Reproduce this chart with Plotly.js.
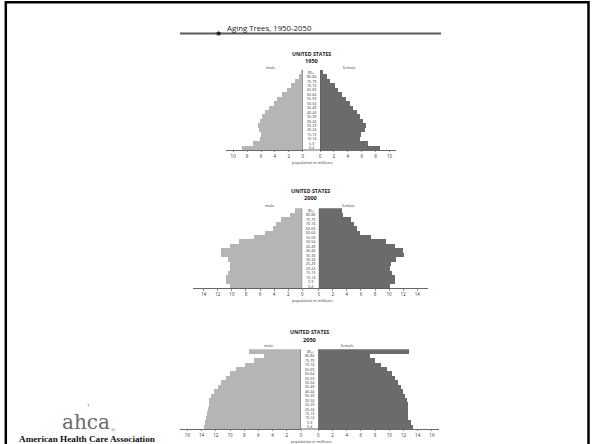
<!DOCTYPE html>
<html><head><meta charset="utf-8">
<script src="https://cdn.plot.ly/plotly-3.0.1.min.js"></script>
<style>html,body{margin:0;padding:0;background:#fff}#chart{width:592px;height:444px}</style>
</head><body><div id="chart"></div>
<script>
// ---------- DATA ----------
const ages = ["0-4","5-9","10-14","15-19","20-24","25-29","30-34","35-39","40-44","45-49","50-54","55-59","60-64","65-69","70-74","75-79","80-84","85+"];
const male1950   = [8.8, 7.1, 6.2, 6.0, 6.3, 6.4, 6.2, 5.9, 5.4, 4.8, 4.2, 3.7, 3.0, 2.3, 1.7, 1.1, 0.5, 0.25];
const female1950 = [8.6, 6.9, 5.7, 5.9, 6.5, 6.6, 6.2, 5.75, 5.3, 4.8, 4.25, 3.75, 3.2, 2.65, 2.1, 1.5, 1.0, 0.5];
const male2000   = [10.3, 10.8, 10.9, 10.6, 10.2, 10.2, 10.6, 11.5, 11.5, 10.2, 9.0, 6.8, 5.3, 4.2, 3.7, 3.0, 1.8, 1.1];
const female2000 = [10.1, 10.8, 10.8, 10.4, 10.1, 10.3, 11.0, 12.1, 12.0, 10.8, 9.6, 7.4, 5.8, 5.4, 5.0, 4.6, 3.4, 3.3];
const male2050   = [13.7, 13.55, 13.35, 13.2, 13.05, 13.0, 12.9, 12.65, 12.2, 11.65, 11.2, 10.55, 10.0, 9.15, 7.9, 6.6, 5.2, 7.35];
const female2050 = [13.3, 13.0, 12.7, 12.6, 12.6, 12.6, 12.45, 12.15, 11.95, 11.6, 11.25, 10.85, 10.35, 9.7, 8.8, 8.0, 7.25, 12.75];
const years = ["1950", "2000", "2050"];
const country = "UNITED STATES";
const sexLabels = ["male", "female"];
const xAxisTitle = "population in millions";
const chartTitle = "Aging Trees, 1950-2050";
const logoText = "ahca";
const orgName = "American Health Care Association";

// ---------- LAYOUT HELPERS ----------
const W = 592, H = 444;
const fx = p => p / W, fy = p => 1 - p / H;
const FONT = '"Open Sans", "Noto Sans", sans-serif';
const MALE = '#b5b5b5', FEMALE = '#6b6b6b';

const series = [[male1950, female1950], [male2000, female2000], [male2050, female2050]];
const panels = [
  {rng: 11,   m0: 302.7, f0: 320.0, scale: 6.95, top: 70,    bot: 150,   us: 53.8,  yr: 61.5,  sex: 67,    xl: 162.5},
  {rng: 15.5, m0: 302.3, f0: 318.7, scale: 7.04, top: 208.3, bot: 288.5, us: 190.6, yr: 198.3, sex: 205,   xl: 300.5},
  {rng: 17,   m0: 301.0, f0: 318.3, scale: 7.1,  top: 349.3, bot: 429,   us: 331.8, yr: 339.5, sex: 345.5, xl: 441.5}
];

const traces = [];
const layout = {
  width: W, height: H,
  margin: {l: 0, r: 0, t: 0, b: 0},
  paper_bgcolor: '#fff', plot_bgcolor: 'rgba(0,0,0,0)',
  showlegend: false, barmode: 'overlay', bargap: 0,
  font: {family: FONT, color: '#333'},
  shapes: [], annotations: []
};

const axBase = {
  showgrid: false, zeroline: false, showline: true, linecolor: '#444', linewidth: 0.8,
  ticks: 'outside', ticklen: 1.5, tickwidth: 0.6, tickcolor: '#444',
  dtick: 2, tick0: 0, tickfont: {size: 4.5, color: '#333', family: FONT}, fixedrange: true
};

panels.forEach((p, i) => {
  const xm = 2 * i + 1, xf = 2 * i + 2, yk = i + 1;
  const xmId = xm === 1 ? 'x' : 'x' + xm, xfId = 'x' + xf, yId = yk === 1 ? 'y' : 'y' + yk;
  const xmName = xm === 1 ? 'xaxis' : 'xaxis' + xm, xfName = 'xaxis' + xf, yName = yk === 1 ? 'yaxis' : 'yaxis' + yk;
  const left = p.m0 - p.rng * p.scale, right = p.f0 + p.rng * p.scale;

  traces.push({type: 'bar', orientation: 'h', x: series[i][0], y: ages, xaxis: xmId, yaxis: yId,
    marker: {color: MALE, line: {width: 0}}, hoverinfo: 'skip'});
  traces.push({type: 'bar', orientation: 'h', x: series[i][1], y: ages, xaxis: xfId, yaxis: yId,
    marker: {color: FEMALE, line: {width: 0}}, hoverinfo: 'skip'});

  layout[xmName] = Object.assign({}, axBase, {domain: [fx(left), fx(p.m0)], range: [p.rng, 0], anchor: yId});
  layout[xfName] = Object.assign({}, axBase, {domain: [fx(p.f0), fx(right)], range: [0, p.rng], anchor: yId});
  layout[yName] = {domain: [fy(p.bot), fy(p.top)], anchor: xmId, type: 'category', categoryorder: 'array',
    categoryarray: ages, range: [-0.5, ages.length - 0.5], showticklabels: false, showgrid: false,
    zeroline: false, showline: false, fixedrange: true};

  layout.shapes.push({type: 'line', xref: xmId, x0: 0, x1: 0, yref: yId + ' domain', y0: 0, y1: 1, line: {color: '#555', width: 0.8}});
  layout.shapes.push({type: 'line', xref: xfId, x0: 0, x1: 0, yref: yId + ' domain', y0: 0, y1: 1, line: {color: '#555', width: 0.8}});
  layout.shapes.push({type: 'line', xref: 'paper', x0: fx(p.m0), x1: fx(p.f0), yref: yId + ' domain', y0: 0, y1: 0, line: {color: '#444', width: 0.8}});

  const cx = fx((p.m0 + p.f0) / 2);
  ages.forEach(a => layout.annotations.push({text: a, xref: 'paper', x: cx, yref: yId, y: a, showarrow: false,
    xanchor: 'center', yanchor: 'middle', font: {size: 3.6, color: '#333', family: FONT}}));

  layout.annotations.push({text: '<b>' + country + '</b>', xref: 'paper', yref: 'paper', x: cx, y: fy(p.us),
    showarrow: false, xanchor: 'center', yanchor: 'middle', font: {size: 5.2, color: '#222', family: FONT}});
  layout.annotations.push({text: '<b>' + years[i] + '</b>', xref: 'paper', yref: 'paper', x: cx, y: fy(p.yr),
    showarrow: false, xanchor: 'center', yanchor: 'middle', font: {size: 5.6, color: '#222', family: FONT}});
  layout.annotations.push({text: sexLabels[0], xref: 'paper', yref: 'paper', x: fx(p.m0 - 32), y: fy(p.sex),
    showarrow: false, xanchor: 'center', yanchor: 'middle', font: {size: 4, color: '#333', family: FONT}});
  layout.annotations.push({text: sexLabels[1], xref: 'paper', yref: 'paper', x: fx(p.f0 + 30), y: fy(p.sex),
    showarrow: false, xanchor: 'center', yanchor: 'middle', font: {size: 4, color: '#333', family: FONT}});
  layout.annotations.push({text: xAxisTitle, xref: 'paper', yref: 'paper', x: fx((p.m0 + p.f0) / 2 + 1), y: fy(p.xl),
    showarrow: false, xanchor: 'center', yanchor: 'middle', font: {size: 4, color: '#333', family: FONT}});
});

// title bar
layout.shapes.push({type: 'line', xref: 'paper', yref: 'paper', x0: fx(180), x1: fx(441), y0: fy(33.5), y1: fy(33.5),
  line: {color: '#5a5a5a', width: 2.2}});
layout.annotations.push({text: '★', xref: 'paper', yref: 'paper', x: fx(218.3), y: fy(33.3), showarrow: false,
  xanchor: 'center', yanchor: 'middle', font: {size: 8, color: '#111', family: '"DejaVu Sans", sans-serif'}});
layout.annotations.push({text: chartTitle, xref: 'paper', yref: 'paper', x: fx(224.5), y: fy(28.5), showarrow: false,
  xanchor: 'left', yanchor: 'middle', font: {size: 7.8, color: '#222', family: FONT}});

// frame
layout.shapes.push({type: 'rect', xref: 'paper', yref: 'paper', x0: fx(5.8), x1: fx(588.5), y0: fy(2.2), y1: fy(450),
  line: {color: '#000', width: 2.5}, fillcolor: 'rgba(0,0,0,0)'});

// logo
layout.annotations.push({text: logoText, xref: 'paper', yref: 'paper', x: fx(86), y: fy(421.5), showarrow: false,
  xanchor: 'center', yanchor: 'middle', font: {size: 20, color: '#6a6a6a', family: '"DejaVu Serif", serif'}});
layout.annotations.push({text: '®', xref: 'paper', yref: 'paper', x: fx(113), y: fy(430), showarrow: false,
  xanchor: 'center', yanchor: 'middle', font: {size: 6, color: '#6a6a6a', family: '"Liberation Serif", serif'}});
layout.annotations.push({text: '⚕', xref: 'paper', yref: 'paper', x: fx(88), y: fy(404.5), showarrow: false,
  xanchor: 'center', yanchor: 'middle', font: {size: 5, color: '#777', family: '"DejaVu Sans", sans-serif'}});
layout.annotations.push({text: '<b>' + orgName + '</b>', xref: 'paper', yref: 'paper', x: fx(87), y: fy(438.5), showarrow: false,
  xanchor: 'center', yanchor: 'middle', font: {size: 9.2, color: '#111', family: '"Liberation Serif", serif'}});

Plotly.newPlot('chart', traces, layout, {staticPlot: true, displayModeBar: false});
</script>
</body></html>
